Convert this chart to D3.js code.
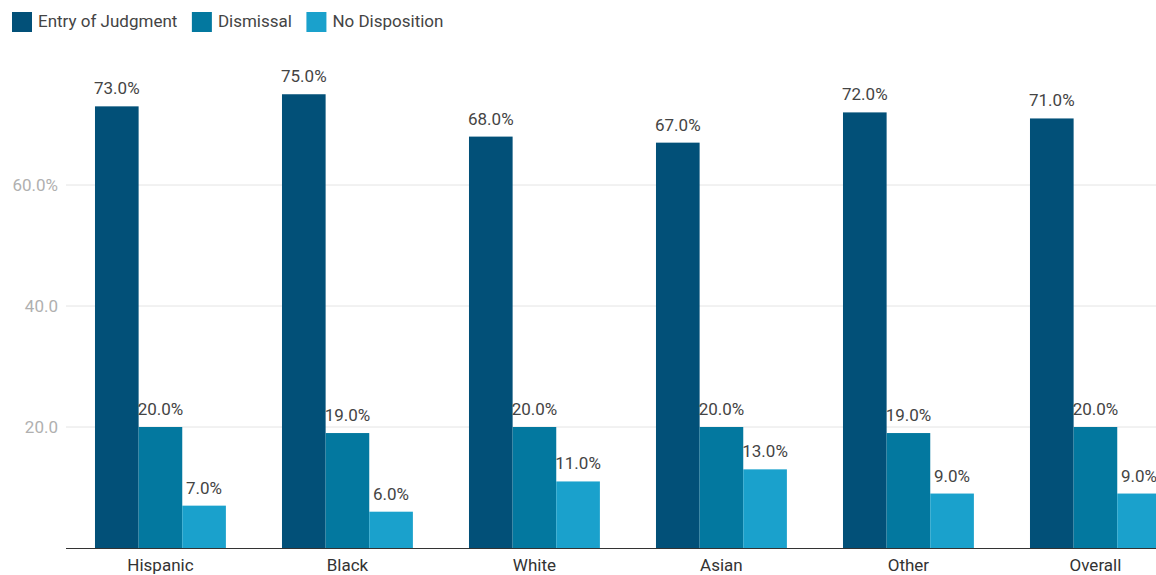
<!DOCTYPE html>
<html><head><meta charset="utf-8">
<script src="https://cdn.jsdelivr.net/npm/d3@7"></script>
<style>body{margin:0;background:#fff}svg{display:block;font-family:Roboto,sans-serif}</style>
</head><body><svg id="c" width="1156" height="575"></svg>
<script>
const categories = ["Hispanic","Black","White","Asian","Other","Overall"];
const seriesNames = ["Entry of Judgment","Dismissal","No Disposition"];
const entryOfJudgment = [73,75,68,67,72,71];
const dismissal = [20,19,20,20,19,20];
const noDisposition = [7,6,11,13,9,9];
const tickValues = [20,40,60];
const tickLabels = ["20.0","40.0","60.0%"];
const colors = ["#025078","#03789f","#1aa1cc"];

const series = [entryOfJudgment, dismissal, noDisposition];
const svg = d3.select("#c");
const FS = 17;
const left = 66, step = 187, pi = 0.3, po = 0.155;
const x0 = d3.scaleBand().domain(categories)
  .range([left, left + step*(categories.length - pi + 2*po)])
  .paddingInner(pi).paddingOuter(po);
const x1 = d3.scaleBand().domain(seriesNames).range([0, x0.bandwidth()]);
const y = d3.scaleLinear().domain([0,80]).range([548,64]);

// gridlines
svg.append("g").selectAll("line").data(tickValues).join("line")
  .attr("x1", left).attr("x2", 1156)
  .attr("y1", d=>y(d)).attr("y2", d=>y(d))
  .attr("stroke","#e4e4e4").attr("stroke-width",1);
// y tick labels
svg.append("g").selectAll("text").data(tickValues).join("text")
  .attr("x", 58).attr("y", d=>y(d)+6)
  .attr("text-anchor","end").attr("font-size",FS).attr("fill","#b0b0b0")
  .text((d,i)=>tickLabels[i]);

// bars
const groups = svg.append("g").selectAll("g").data(categories).join("g")
  .attr("transform", d=>`translate(${x0(d)},0)`);
seriesNames.forEach((s, si) => {
  groups.append("rect")
    .attr("x", x1(s)).attr("width", x1.bandwidth())
    .attr("y", (d,i)=>y(series[si][i]))
    .attr("height", (d,i)=>y(0)-y(series[si][i]))
    .attr("fill", colors[si]);
  groups.append("text")
    .attr("x", x1(s)+x1.bandwidth()/2)
    .attr("y", (d,i)=>y(series[si][i])-12)
    .attr("text-anchor","middle").attr("font-size",FS).attr("fill","#444")
    .text((d,i)=>series[si][i].toFixed(1)+"%");
});

// x axis
const xAxis = svg.append("g").attr("transform","translate(0,548)")
  .call(d3.axisBottom(x0).tickSize(0).tickPadding(11));
xAxis.select(".domain").attr("d", `M${left},0.5H1156`).attr("stroke","#333");
xAxis.selectAll("text").attr("font-size",FS).attr("fill","#333").attr("font-family","Roboto,sans-serif");

// legend
const lg = svg.append("g");
let lx = 12;
seriesNames.forEach((s, i) => {
  lg.append("rect").attr("x", lx).attr("y", 12).attr("width", 20).attr("height", 20).attr("fill", colors[i]);
  const t = lg.append("text").attr("x", lx+26).attr("y", 27).attr("font-size",FS).attr("fill","#444").text(s);
  lx += 26 + t.node().getComputedTextLength() + 14.5;
});
</script></body></html>
